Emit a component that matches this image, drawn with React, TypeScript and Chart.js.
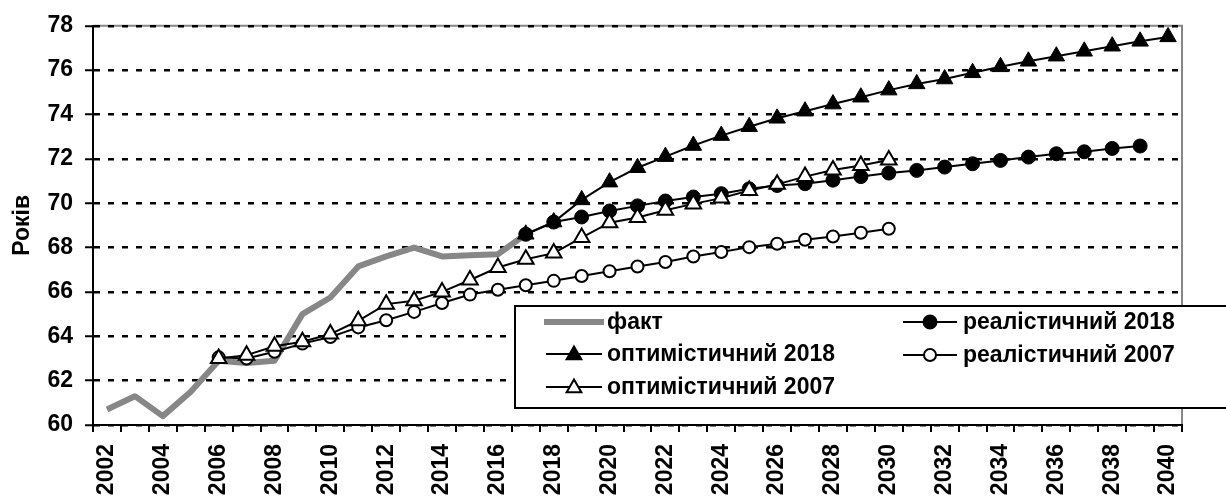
import React, { useEffect, useRef } from "react";
import { Chart, registerables } from "chart.js";

Chart.register(...registerables);

const years: string[] = [];
for (let y = 2002; y <= 2040; y++) years.push(String(y));

// факт 2002..2017
const fact: (number | null)[] = [
  60.7, 61.3, 60.4, 61.5, 62.9, 62.8, 62.9, 65.0, 65.75, 67.15, 67.6, 68.0, 67.6, 67.65, 67.7, 68.6,
  null, null, null, null, null, null, null, null, null, null, null, null, null, null, null, null, null, null, null, null, null, null, null,
];

// оптимістичний 2018: 2017..2040
const opt2018: (number | null)[] = [
  null, null, null, null, null, null, null, null, null, null, null, null, null, null, null,
  68.6, 69.15, 70.15, 70.95, 71.6, 72.1, 72.6, 73.05, 73.45, 73.83, 74.15, 74.47, 74.78, 75.1, 75.38,
  75.6, 75.88, 76.15, 76.4, 76.63, 76.85, 77.08, 77.3, 77.5,
];

// реалістичний 2018: 2017..2039
const real2018: (number | null)[] = [
  null, null, null, null, null, null, null, null, null, null, null, null, null, null, null,
  68.6, 69.15, 69.38, 69.65, 69.88, 70.1, 70.28, 70.43, 70.65, 70.8, 70.88, 71.04, 71.2, 71.36, 71.48,
  71.63, 71.78, 71.93, 72.08, 72.23, 72.32, 72.47, 72.58, null,
];

// оптимістичний 2007: 2006..2030
const opt2007: (number | null)[] = [
  null, null, null, null,
  63.0, 63.15, 63.55, 63.75, 64.1, 64.7, 65.45, 65.6, 66.0, 66.54, 67.1, 67.47, 67.75, 68.45, 69.12,
  69.36, 69.68, 69.97, 70.23, 70.57, 70.85, 71.2, 71.5, 71.7, 71.95,
  null, null, null, null, null, null, null, null, null, null,
];

// реалістичний 2007: 2006..2030
const real2007: (number | null)[] = [
  null, null, null, null,
  63.05, 63.0, 63.3, 63.67, 63.97, 64.4, 64.72, 65.1, 65.5, 65.88, 66.1, 66.3, 66.5, 66.72, 66.93,
  67.15, 67.35, 67.6, 67.8, 68.02, 68.17, 68.35, 68.5, 68.67, 68.85,
  null, null, null, null, null, null, null, null, null, null,
];

const yTicks = [60, 62, 64, 66, 68, 70, 72, 74, 76, 78];
const yTitle = "Років";
const legendLabels = {
  fact: "факт",
  opt2018: "оптимістичний 2018",
  opt2007: "оптимістичний 2007",
  real2018: "реалістичний 2018",
  real2007: "реалістичний 2007",
};

const FONT = "'Liberation Sans', Arial, sans-serif";
const GRAY = "#878787";

function drawTriangle(ctx: CanvasRenderingContext2D, x: number, y: number, r: number, fill: string) {
  ctx.beginPath();
  ctx.moveTo(x, y - r);
  ctx.lineTo(x + r * 0.866, y + r * 0.5);
  ctx.lineTo(x - r * 0.866, y + r * 0.5);
  ctx.closePath();
  ctx.fillStyle = fill;
  ctx.fill();
  ctx.lineWidth = 2;
  ctx.strokeStyle = "#000";
  ctx.stroke();
}

function drawCircle(ctx: CanvasRenderingContext2D, x: number, y: number, r: number, fill: string) {
  ctx.beginPath();
  ctx.arc(x, y, r, 0, Math.PI * 2);
  ctx.fillStyle = fill;
  ctx.fill();
  ctx.lineWidth = 2;
  ctx.strokeStyle = "#000";
  ctx.stroke();
}

const borderPlugin = {
  id: "grayBorder",
  beforeDraw(chart: any) {
    const { ctx, chartArea } = chart;
    ctx.save();
    ctx.strokeStyle = GRAY;
    ctx.lineWidth = 2;
    ctx.beginPath();
    ctx.moveTo(chartArea.left, chartArea.top);
    ctx.lineTo(chartArea.right, chartArea.top);
    ctx.lineTo(chartArea.right, chartArea.bottom);
    ctx.stroke();
    ctx.restore();
  },
};

const legendPlugin = {
  id: "customLegend",
  afterDraw(chart: any) {
    const ctx: CanvasRenderingContext2D = chart.ctx;
    ctx.save();
    const bx = 515, by = 306, bw = 720, bh = 102;
    ctx.fillStyle = "#fff";
    ctx.fillRect(bx, by, bw, bh);
    ctx.lineWidth = 2;
    ctx.strokeStyle = "#000";
    ctx.strokeRect(bx, by, bw, bh);

    ctx.font = `bold 23px ${FONT}`;
    ctx.textBaseline = "middle";
    ctx.textAlign = "left";

    const rows = [322, 354, 387];
    ctx.strokeStyle = GRAY;
    ctx.lineWidth = 6;
    ctx.beginPath();
    ctx.moveTo(544, rows[0]);
    ctx.lineTo(604, rows[0]);
    ctx.stroke();
    ctx.fillStyle = "#000";
    ctx.fillText(legendLabels.fact, 607, rows[0] + 1);

    const seg = (x1: number, x2: number, y: number) => {
      ctx.strokeStyle = "#000";
      ctx.lineWidth = 2;
      ctx.beginPath();
      ctx.moveTo(x1, y);
      ctx.lineTo(x2, y);
      ctx.stroke();
    };
    seg(546, 602, rows[1]);
    drawTriangle(ctx, 574, rows[1] + 1, 8.5, "#000");
    ctx.fillStyle = "#000";
    ctx.fillText(legendLabels.opt2018, 607, rows[1] + 1);

    seg(546, 602, rows[2]);
    drawTriangle(ctx, 574, rows[2] + 1, 8.5, "#fff");
    ctx.fillStyle = "#000";
    ctx.fillText(legendLabels.opt2007, 607, rows[2] + 1);

    seg(903, 957, rows[0]);
    drawCircle(ctx, 930, rows[0], 6.5, "#000");
    ctx.fillStyle = "#000";
    ctx.fillText(legendLabels.real2018, 963, rows[0] + 1);

    seg(903, 957, 355);
    drawCircle(ctx, 930, 355, 6, "#fff");
    ctx.fillStyle = "#000";
    ctx.fillText(legendLabels.real2007, 963, 356);
    ctx.restore();
  },
};

export default function App() {
  const ref = useRef<HTMLCanvasElement | null>(null);

  useEffect(() => {
    document.body.style.margin = "0";
    const canvas = ref.current;
    if (!canvas) return;
    const font = { family: FONT, size: 23, weight: "bold" as const };

    const chart = new Chart(canvas, {
      type: "line",
      data: {
        labels: years,
        datasets: [
          {
            label: legendLabels.fact,
            data: fact,
            borderColor: GRAY,
            borderWidth: 6,
            pointRadius: 0,
            borderJoinStyle: "round",
            order: 10,
          },
          {
            label: legendLabels.real2007,
            data: real2007,
            borderColor: "#000",
            borderWidth: 2,
            pointStyle: "circle",
            pointRadius: 6,
            pointBorderWidth: 2,
            pointBackgroundColor: "#fff",
            pointBorderColor: "#000",
            order: 4,
          },
          {
            label: legendLabels.real2018,
            data: real2018,
            borderColor: "#000",
            borderWidth: 2,
            pointStyle: "circle",
            pointRadius: 7,
            pointBorderWidth: 1,
            pointBackgroundColor: "#000",
            pointBorderColor: "#000",
            order: 3,
          },
          {
            label: legendLabels.opt2007,
            data: opt2007,
            borderColor: "#000",
            borderWidth: 2,
            pointStyle: "triangle",
            pointRadius: 9,
            pointBorderWidth: 2,
            pointBackgroundColor: "#fff",
            pointBorderColor: "#000",
            order: 2,
          },
          {
            label: legendLabels.opt2018,
            data: opt2018,
            borderColor: "#000",
            borderWidth: 2,
            pointStyle: "triangle",
            pointRadius: 9.5,
            pointBorderWidth: 1,
            pointBackgroundColor: "#000",
            pointBorderColor: "#000",
            order: 1,
          },
        ],
      },
      options: {
        responsive: false,
        animation: false,
        devicePixelRatio: 1,
        layout: { padding: { top: 25, right: 44, bottom: 0, left: 0 } },
        plugins: {
          legend: { display: false },
          tooltip: { enabled: false },
        },
        scales: {
          x: {
            type: "category",
            offset: true,
            grid: {
              display: true,
              drawOnChartArea: false,
              drawTicks: true,
              tickLength: 7,
              offset: true,
              color: "#000",
              lineWidth: 2,
              tickColor: "#000",
              tickWidth: 2,
            },
            border: { display: true, color: "#000", width: 2 },
            ticks: {
              autoSkip: false,
              minRotation: 90,
              maxRotation: 90,
              padding: 12,
              color: "#000",
              font,
              callback: (_v: any, i: number) => (i % 2 === 0 ? years[i] : ""),
            },
            afterFit: (s: any) => {
              s.height = 72;
            },
          },
          y: {
            min: 60,
            max: 78,
            afterBuildTicks: (s: any) => {
              s.ticks = yTicks.map((v) => ({ value: v }));
            },
            ticks: { stepSize: 2, padding: 12, color: "#000", font },
            grid: {
              color: "#000",
              lineWidth: 2.5,
              borderDash: [6, 8],
              tickBorderDash: [],
              tickLength: 8,
              tickColor: "#000",
              tickWidth: 2,
            } as any,
            border: { display: true, color: "#000", width: 2, dash: [6, 8] },
            title: {
              display: true,
              text: yTitle,
              color: "#000",
              font,
              padding: { top: 9, bottom: 0 },
            },
            afterFit: (s: any) => {
              s.width = 93;
            },
          },
        },
      } as any,
      plugins: [borderPlugin, legendPlugin],
    });
    return () => chart.destroy();
  }, []);

  return (
    <div style={{ width: 1226, height: 497 }}>
      <canvas ref={ref} width={1226} height={497} style={{ display: "block" }} />
    </div>
  );
}
